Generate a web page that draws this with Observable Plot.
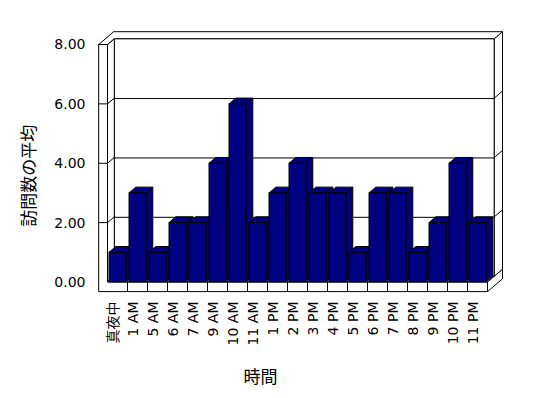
<!DOCTYPE html>
<html><head><meta charset="utf-8">
<script src="https://cdn.jsdelivr.net/npm/d3@7"></script>
<script src="https://cdn.jsdelivr.net/npm/@observablehq/plot@0.6"></script>
<style>body{margin:0;background:#fff}</style>
</head><body><div id="chart"></div>
<script>
const categories = ["真夜中","1 AM","5 AM","6 AM","7 AM","9 AM","10 AM","11 AM","1 PM","2 PM","3 PM","4 PM","5 PM","6 PM","7 PM","8 PM","9 PM","10 PM","11 PM"];
const values = [1,3,1,2,2,4,6,2,3,4,3,3,1,3,3,1,2,4,2];
const yTicks = [0,2,4,6,8];
const gridValues = [2,4,6];
const yTitle = "訪問数の平均";
const xTitle = "時間";

const data = categories.map((c,i)=>({cat:c, value:values[i]}));
const W = 548, H = 398;
const D = [6.8,-5.8], F = [15,-12.8], WALL = 8.8, FLOOR = 9.6;
const NAVY = "#000080";

function poly(g, pts, fill){
  g.append("path").attr("d","M"+pts.map(p=>p[0]+","+p[1]).join("L")+"Z")
   .attr("fill",fill).attr("stroke","black").attr("stroke-width",1).attr("stroke-linejoin","miter");
}
function seg(g, pts){
  g.append("path").attr("d","M"+pts.map(p=>p[0]+","+p[1]).join("L"))
   .attr("fill","none").attr("stroke","black").attr("stroke-width",1);
}
function geom(s){
  const x=s.x, y=s.y;
  const bw=x.bandwidth();
  const step=x.step?x.step():(x(categories[1])-x(categories[0]));
  const XI=x(categories[0])-(step-bw)/2;
  const XR=x(categories[categories.length-1])+bw+(step-bw)/2;
  return {x,y,bw,step,XI,XR,XL:XI-WALL,y0:y(0),yT:y(8),yB:y(0)+FLOOR};
}
function mk(fn){
  return (index, scales) => { const g=d3.create("svg:g"); fn(g, geom(scales)); return g.node(); };
}

const walls = mk((g,{y,XI,XR,y0,yT})=>{
  poly(g,[[XI+D[0],yT+D[1]],[XR+D[0],yT+D[1]],[XR+D[0],y0+D[1]],[XI+D[0],y0+D[1]]],"white");
  poly(g,[[XI,yT],[XI+D[0],yT+D[1]],[XI+D[0],y0+D[1]],[XI,y0]],"white");
  poly(g,[[XI,y0],[XR,y0],[XR+D[0],y0+D[1]],[XI+D[0],y0+D[1]]],"white");
  for(const v of gridValues) seg(g,[[XI,y(v)],[XI+D[0],y(v)+D[1]]]);
});

const shell = mk((g,{y,XI,XR,XL,y0,yT,yB,step})=>{
  poly(g,[[XL,yT],[XI,yT],[XI,y0],[XR,y0],[XR,yB],[XL,yB]],"white");
  for(const v of gridValues) seg(g,[[XL,y(v)],[XI,y(v)]]);
  for(let k=1;k<categories.length;k++) seg(g,[[XI+k*step,y0],[XI+k*step,yB]]);
  poly(g,[[XR,y0],[XR+F[0],y0+F[1]],[XR+F[0],yB+F[1]],[XR,yB]],"white");
  poly(g,[[XR+D[0],yT+D[1]],[XR+F[0],yT+F[1]],[XR+F[0],y0+F[1]],[XR+D[0],y0+D[1]]],"white");
  for(const v of gridValues) seg(g,[[XR+D[0],y(v)+D[1]],[XR+F[0],y(v)+F[1]]]);
  poly(g,[[XL,yT],[XI,yT],[XI+D[0],yT+D[1]],[XR+D[0],yT+D[1]],[XR+F[0],yT+F[1]],[XL+F[0],yT+F[1]]],"white");
});

const barSides = mk((g,{x,y,bw,y0})=>{
  data.forEach(d=>{
    const x0=x(d.cat), x1=x0+bw, t=y(d.value);
    poly(g,[[x0,t],[x0+D[0],t+D[1]],[x1+D[0],t+D[1]],[x1+D[0],y0+D[1]],[x1,y0],[x1,t]],NAVY);
    seg(g,[[x1,t],[x1+D[0],t+D[1]]]);
  });
});

const chart = Plot.plot({
  width: W, height: H,
  marginLeft: 106.5, marginRight: 60.5, marginTop: 44.5, marginBottom: 116,
  style: {fontFamily: "DejaVu Sans, 'Noto Sans CJK JP'", fontSize: "14px", background: "white", color: "black"},
  x: {domain: categories, paddingInner: 0.167, paddingOuter: 0.0835, axis: null},
  y: {domain: [0,8], ticks: yTicks, tickFormat: d=>d.toFixed(2), tickSize: 0, tickPadding: 21.5, label: null},
  marks: [
    walls,
    Plot.ruleY(gridValues, {dx: D[0], dy: D[1], stroke: "black", strokeWidth: 1, strokeOpacity: 1}),
    shell,
    barSides,
    Plot.barY(data, {x: "cat", y: "value", fill: NAVY, stroke: "black", strokeWidth: 1}),
    Plot.text(data, {x: "cat", text: "cat", frameAnchor: "bottom", rotate: -90, textAnchor: "end", lineAnchor: "middle", dy: 19, dx: -4, fontSize: 14, fill: "black"}),
    Plot.text([yTitle], {frameAnchor: "left", rotate: -90, textAnchor: "middle", lineAnchor: "middle", dx: -77.5, dy: 12, fontSize: 17, fontFamily: "'Noto Sans CJK JP'", fill: "black"}),
    Plot.text([xTitle], {frameAnchor: "bottom", textAnchor: "middle", lineAnchor: "middle", dx: -37, dy: 95, fontSize: 17, fontFamily: "'Noto Sans CJK JP'", fill: "black"})
  ]
});
document.getElementById("chart").appendChild(chart);
</script>
</body></html>
